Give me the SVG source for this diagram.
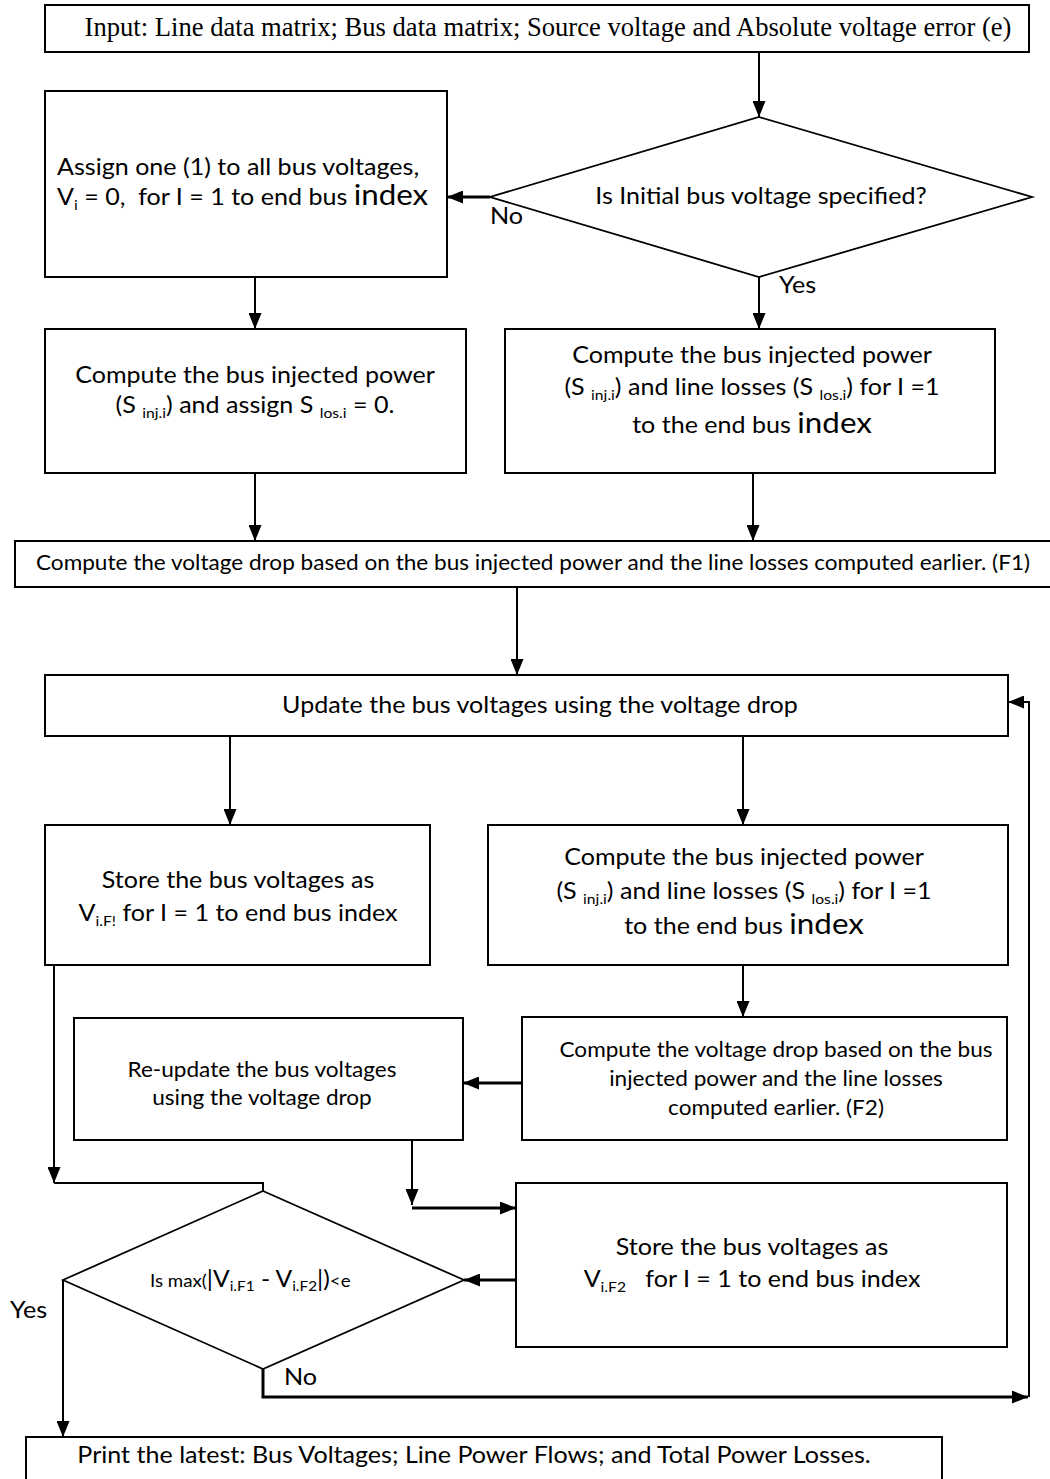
<svg xmlns="http://www.w3.org/2000/svg" width="1050" height="1479" viewBox="0 0 1050 1479">
  <style>
    .box { fill: #fff; stroke: #000; stroke-width: 2; }
    .dec { fill: #fff; stroke: #000; stroke-width: 1.8; }
    .wire { fill: none; stroke: #000; stroke-width: 2; }
    .thick { fill: none; stroke: #000; stroke-width: 3; }
    .t { font-family: Lato, "Open Sans", sans-serif; font-size: 22.4px; fill: #000; }
    .s { font-size: 21.5px; }
    .c { text-anchor: middle; }
    .serif { font-family: "Liberation Serif", "Times New Roman", serif; font-size: 26.6px; fill: #000; }
    .sub { font-size: 14px; }
    .big { font-size: 28px; }
    .lbl { font-family: Lato, "Open Sans", sans-serif; font-size: 24px; fill: #000; }
  </style>
  <defs>
    <marker id="arrow" markerUnits="userSpaceOnUse" markerWidth="16" markerHeight="13" refX="16" refY="6.5" orient="auto">
      <path d="M0,0 L16,6.5 L0,13 z" fill="#000"/>
    </marker>
  </defs>

  <rect width="1050" height="1479" fill="#fff"/>

  <!-- connectors -->
  <g id="connectors">
    <line class="wire" x1="759" y1="52" x2="759" y2="117" marker-end="url(#arrow)"/>
    <line class="thick" x1="490" y1="197" x2="447" y2="197" marker-end="url(#arrow)"/>
    <line class="wire" x1="759" y1="277" x2="759" y2="329" marker-end="url(#arrow)"/>
    <line class="wire" x1="255" y1="277" x2="255" y2="329" marker-end="url(#arrow)"/>
    <line class="wire" x1="255" y1="473" x2="255" y2="541" marker-end="url(#arrow)"/>
    <line class="wire" x1="753" y1="473" x2="753" y2="541" marker-end="url(#arrow)"/>
    <line class="wire" x1="517" y1="587" x2="517" y2="675" marker-end="url(#arrow)"/>
    <line class="wire" x1="230" y1="736" x2="230" y2="825" marker-end="url(#arrow)"/>
    <line class="wire" x1="743" y1="736" x2="743" y2="825" marker-end="url(#arrow)"/>
    <line class="wire" x1="743" y1="965" x2="743" y2="1017" marker-end="url(#arrow)"/>
    <line class="thick" x1="522" y1="1083" x2="463" y2="1083" marker-end="url(#arrow)"/>
    <line class="wire" x1="54" y1="965" x2="54" y2="1183" marker-end="url(#arrow)"/>
    <polyline class="wire" points="54,1183 263,1183 263,1191"/>
    <line class="wire" x1="412" y1="1140" x2="412" y2="1205" marker-end="url(#arrow)"/>
    <line class="thick" x1="412" y1="1208" x2="516" y2="1208" marker-end="url(#arrow)"/>
    <line class="thick" x1="516" y1="1280" x2="464" y2="1280" marker-end="url(#arrow)"/>
    <polyline class="thick" points="263,1369 263,1397 1028,1397" marker-end="url(#arrow)"/>
    <polyline class="wire" points="1029,1397 1029,702 1008,702" marker-end="url(#arrow)"/>
    <line class="wire" x1="63" y1="1280" x2="63" y2="1437" marker-end="url(#arrow)"/>
  </g>

  <!-- input -->
  <g id="input">
    <rect class="box" x="45" y="5" width="984" height="47"/>
    <text class="serif c" x="548" y="36">Input: Line data matrix; Bus data matrix; Source voltage and Absolute voltage error (e)</text>
  </g>

  <!-- initial voltage decision -->
  <g id="initial-check">
    <polygon class="dec" points="759,117 1032,197 759,277 490,197"/>
    <text class="t c" transform="translate(761 204) scale(1.12 1)">Is Initial bus voltage specified?</text>
    <text class="lbl" transform="translate(490 224) scale(1.05 1)">No</text>
    <text class="lbl" transform="translate(779 293) scale(1.05 1)">Yes</text>
  </g>

  <g id="assign-one">
    <rect class="box" x="45" y="91" width="402" height="186"/>
    <text class="t" transform="translate(57 175) scale(1.12 1)">Assign one (1) to all bus voltages,</text>
    <text class="t" transform="translate(57 205) scale(1.12 1)">V<tspan class="sub" dy="5">i</tspan><tspan dy="-5"> = 0,&#160; for I = 1 to end bus </tspan><tspan class="big">index</tspan></text>
  </g>

  <g id="inject-no-loss">
    <rect class="box" x="45" y="329" width="421" height="144"/>
    <text class="t c" transform="translate(255 383) scale(1.12 1)">Compute the bus injected power</text>
    <text class="t c" transform="translate(255 413) scale(1.12 1)">(S <tspan class="sub" dy="5">inj.i</tspan><tspan dy="-5">) and assign S </tspan><tspan class="sub" dy="5">los.i</tspan><tspan dy="-5"> = 0.</tspan></text>
  </g>

  <g id="inject-with-loss">
    <rect class="box" x="505" y="329" width="490" height="144"/>
    <text class="t c" transform="translate(752 363) scale(1.12 1)">Compute the bus injected power</text>
    <text class="t c" transform="translate(752 395) scale(1.12 1)">(S <tspan class="sub" dy="5">inj.i</tspan><tspan dy="-5">) and line losses (S </tspan><tspan class="sub" dy="5">los.i</tspan><tspan dy="-5">) for I =1</tspan></text>
    <text class="t c" transform="translate(752 433) scale(1.12 1)">to the end bus <tspan class="big">index</tspan></text>
  </g>

  <g id="drop-f1">
    <rect class="box" x="15" y="541" width="1040" height="46"/>
    <text class="t s c" transform="translate(533 570) scale(1.05 1)">Compute the voltage drop based on the bus injected power and the line losses computed earlier. (F1)</text>
  </g>

  <g id="update">
    <rect class="box" x="45" y="675" width="963" height="61"/>
    <text class="t c" transform="translate(540 713) scale(1.12 1)">Update the bus voltages using the voltage drop</text>
  </g>

  <g id="store-f1">
    <rect class="box" x="45" y="825" width="385" height="140"/>
    <text class="t c" transform="translate(238 888) scale(1.12 1)">Store the bus voltages as</text>
    <text class="t c" transform="translate(238 921) scale(1.12 1)">V<tspan class="sub" dy="5">i.F!</tspan><tspan dy="-5"> for I = 1 to end bus index</tspan></text>
  </g>

  <g id="inject-again">
    <rect class="box" x="488" y="825" width="520" height="140"/>
    <text class="t c" transform="translate(744 865) scale(1.12 1)">Compute the bus injected power</text>
    <text class="t c" transform="translate(744 899) scale(1.12 1)">(S <tspan class="sub" dy="5">inj.i</tspan><tspan dy="-5">) and line losses (S </tspan><tspan class="sub" dy="5">los.i</tspan><tspan dy="-5">) for I =1</tspan></text>
    <text class="t c" transform="translate(744 934) scale(1.12 1)">to the end bus <tspan class="big">index</tspan></text>
  </g>

  <g id="drop-f2">
    <rect class="box" x="522" y="1017" width="485" height="123"/>
    <text class="t s c" transform="translate(776 1057) scale(1.05 1)">Compute the voltage drop based on the bus</text>
    <text class="t s c" transform="translate(776 1086) scale(1.05 1)">injected power and the line losses</text>
    <text class="t s c" transform="translate(776 1115) scale(1.05 1)">computed earlier. (F2)</text>
  </g>

  <g id="reupdate">
    <rect class="box" x="74" y="1018" width="389" height="122"/>
    <text class="t s c" transform="translate(262 1077) scale(1.05 1)">Re-update the bus voltages</text>
    <text class="t s c" transform="translate(262 1105) scale(1.05 1)">using the voltage drop</text>
  </g>

  <g id="store-f2">
    <rect class="box" x="516" y="1183" width="491" height="164"/>
    <text class="t c" transform="translate(752 1255) scale(1.12 1)">Store the bus voltages as</text>
    <text class="t c" transform="translate(752 1287) scale(1.12 1)">V<tspan class="sub" dy="5">i.F2</tspan><tspan dy="-5">&#160;&#160; for I = 1 to end bus index</tspan></text>
  </g>

  <g id="converge-check">
    <polygon class="dec" points="263,1191 464,1280 263,1369 63,1280"/>
    <text class="t" transform="translate(150 1287) scale(1.1 1)"><tspan font-size="17">Is max(</tspan>|V<tspan class="sub" dy="4">i.F1</tspan><tspan dy="-4"> - V</tspan><tspan class="sub" dy="4">i.F2</tspan><tspan dy="-4">|)</tspan><tspan font-size="17">&lt;e</tspan></text>
    <text class="lbl" transform="translate(10 1318) scale(1.05 1)">Yes</text>
    <text class="lbl" transform="translate(284 1385) scale(1.05 1)">No</text>
  </g>

  <g id="print">
    <rect class="box" x="26" y="1437" width="916" height="45"/>
    <text class="t c" transform="translate(474 1463) scale(1.12 1)">Print the latest: Bus Voltages; Line Power Flows; and Total Power Losses.</text>
  </g>
</svg>
